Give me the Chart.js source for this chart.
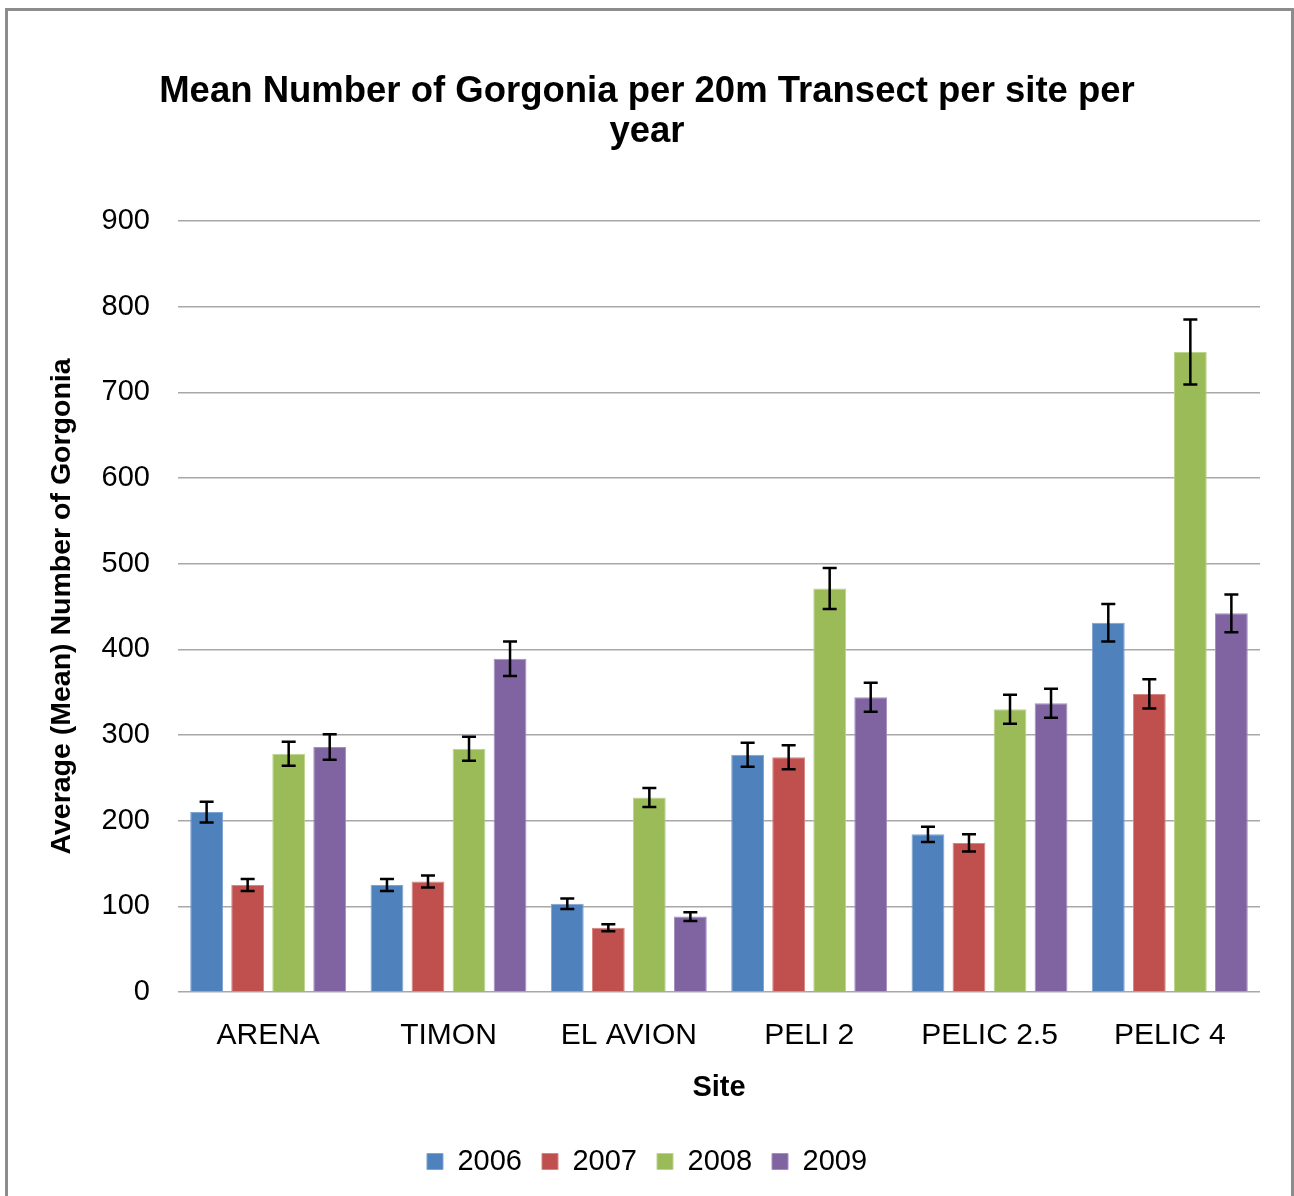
<!DOCTYPE html>
<html>
<head>
<meta charset="utf-8">
<script src="https://cdn.jsdelivr.net/npm/chart.js@4.4.1/dist/chart.umd.min.js"></script>
<style>
    html, body { margin: 0; padding: 0; background: #fff; }
    #frame { position: absolute; left: 5px; top: 8px; width: 1283px; height: 1200px; border: 3px solid #8c8c8c; border-bottom: none; pointer-events: none; }
    #wrap { position: absolute; left: 0; top: 0; width: 1294px; height: 1196px; }
</style>
</head>
<body>
<div id="wrap"><canvas id="gorgoniaChart" width="1294" height="1196"></canvas></div>
<div id="frame"></div>
<script>
// サイトと年ごとの平均値
const sites = ['ARENA', 'TIMON', 'EL AVION', 'PELI 2', 'PELIC 2.5', 'PELIC 4'];
const years = ['2006', '2007', '2008', '2009'];
const mean2006 = [210, 125, 103, 277, 184, 431];
const mean2007 = [125, 129, 75, 274, 174, 348];
const mean2008 = [278, 284, 227, 471, 330, 747];
const mean2009 = [286, 389, 88, 344, 337, 442];
// 誤差棒（±）
const err2006 = [12, 7, 6, 14, 9, 22];
const err2007 = [7, 7, 4, 14, 10, 17];
const err2008 = [14, 14, 11, 24, 17, 38];
const err2009 = [15, 20, 5, 17, 17, 22];
const yMax = 900;
const yStep = 100;

const colors = ['#4F81BD', '#C0504D', '#9BBB59', '#8064A2'];
const edges = ['#7FA3D3', '#D78482', '#BCD48B', '#A48EC0'];
const means = [mean2006, mean2007, mean2008, mean2009];
const errs = [err2006, err2007, err2008, err2009];

const FONT = '"Liberation Sans", Arial, sans-serif';

// 誤差棒の描画プラグイン
const errorBars = {
    id: 'errorBars',
    afterDatasetsDraw(chart) {
        const ctx = chart.ctx;
        const y = chart.scales.y;
        ctx.save();
        ctx.strokeStyle = '#000';
        ctx.lineWidth = 2.5;
        chart.data.datasets.forEach((ds, i) => {
            const meta = chart.getDatasetMeta(i);
            meta.data.forEach((bar, j) => {
                const v = ds.data[j], e = ds.errors[j];
                const top = y.getPixelForValue(v + e);
                const bot = y.getPixelForValue(v - e);
                ctx.beginPath();
                ctx.moveTo(bar.x, top); ctx.lineTo(bar.x, bot);
                ctx.moveTo(bar.x - 7, top); ctx.lineTo(bar.x + 7, top);
                ctx.moveTo(bar.x - 7, bot); ctx.lineTo(bar.x + 7, bot);
                ctx.stroke();
            });
        });
        ctx.restore();
    }
};

const ctx = document.getElementById('gorgoniaChart').getContext('2d');
new Chart(ctx, {
    type: 'bar',
    data: {
        labels: sites,
        datasets: years.map((yr, i) => ({
            label: yr,
            data: means[i],
            errors: errs[i],
            backgroundColor: colors[i],
            borderColor: edges[i],
            borderWidth: 1,
            categoryPercentage: 0.91,
            barPercentage: 0.8
        }))
    },
    options: {
        responsive: false,
        animation: false,
        layout: { padding: { left: 0, right: 0, top: 0, bottom: 10 } },
        plugins: {
            title: {
                display: true,
                text: ['Mean Number of Gorgonia per 20m Transect per site per', 'year'],
                color: '#000',
                font: { family: FONT, size: 36.5, weight: 'bold', lineHeight: '40px' },
                padding: { top: 72, bottom: 69 }
            },
            legend: {
                position: 'bottom',
                labels: {
                    color: '#000',
                    font: { family: FONT, size: 29 },
                    boxWidth: 16,
                    boxHeight: 16,
                    padding: 20
                }
            },
            tooltip: { enabled: false }
        },
        scales: {
            x: {
                grid: { display: false },
                border: { display: false },
                ticks: { color: '#000', font: { family: FONT, size: 30 }, padding: 18 },
                title: {
                    display: true,
                    text: 'Site',
                    color: '#000',
                    font: { family: FONT, size: 29, weight: 'bold' },
                    padding: { top: 0, bottom: 22 }
                },
                afterFit: (s) => { s.height = 135; }
            },
            y: {
                min: 0,
                max: yMax,
                ticks: { stepSize: yStep, color: '#000', font: { family: FONT, size: 29 }, padding: 28 },
                grid: { color: '#A8A8A8', lineWidth: 1.5, drawTicks: false },
                border: { display: false },
                title: {
                    display: true,
                    text: 'Average (Mean) Number of Gorgonia',
                    color: '#000',
                    font: { family: FONT, size: 28.5, weight: 'bold' },
                    padding: { top: 45 }
                },
                afterFit: (s) => { s.width = 178; }
            },
            // 右側の余白用（何も描かない）
            yRight: {
                position: 'right',
                grid: { display: false },
                border: { display: false },
                ticks: { display: false },
                afterFit: (s) => { s.width = 34; }
            }
        }
    },
    plugins: [errorBars]
});
</script>
</body>
</html>
